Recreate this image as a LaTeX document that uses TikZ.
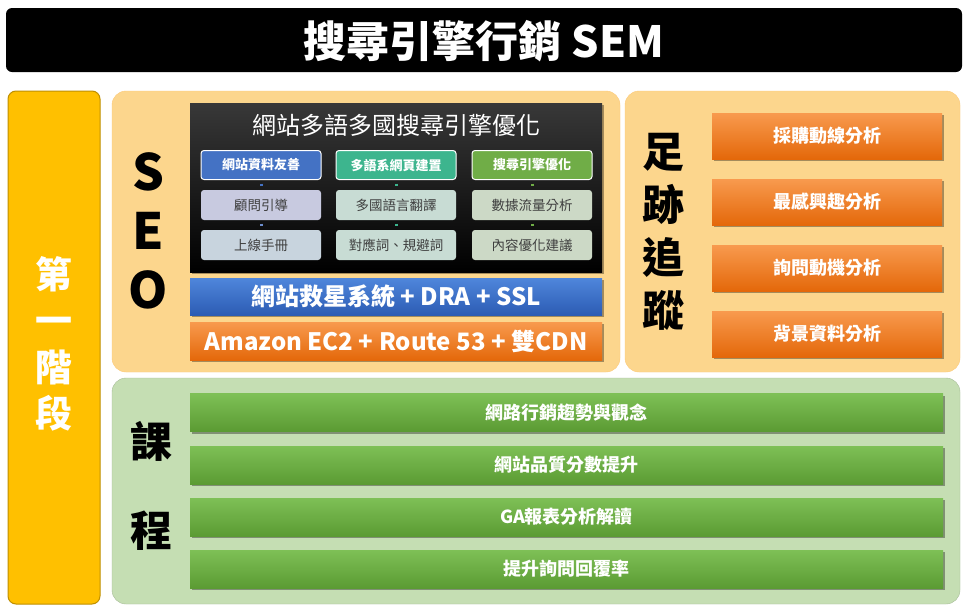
\documentclass[tikz,border=0pt]{standalone}
\usepackage{fontspec}
\setmainfont{Noto Sans CJK TC}
\usetikzlibrary{shadows}
\definecolor{stagegold}{HTML}{FFC000}
\definecolor{stageline}{HTML}{BF8F00}
\definecolor{seopanel}{HTML}{FCD68D}
\definecolor{coursepanel}{HTML}{C5DEB3}
\definecolor{headblue}{HTML}{4472C4}
\definecolor{headteal}{HTML}{3DB58E}
\definecolor{headgreen}{HTML}{70AD47}
\definecolor{paleblue}{HTML}{C8CAE0}
\definecolor{palesky}{HTML}{C8D4DE}
\definecolor{paleteal}{HTML}{C8DCD4}
\definecolor{palegreen}{HTML}{CCD9C6}
\definecolor{itemtext}{HTML}{3F3F3F}
\definecolor{barbluetop}{HTML}{4F86DB}
\definecolor{barbluebot}{HTML}{2C5CB4}
\definecolor{orangetop}{HTML}{F89A4E}
\definecolor{orangebot}{HTML}{E4680A}
\definecolor{greentop}{HTML}{7EC056}
\definecolor{greenbot}{HTML}{5B9B33}

\begin{document}
\begin{tikzpicture}[x=1pt, y=-1pt,
  headbox/.style={draw=white, line width=1pt, rounded corners=3pt,
    minimum width=120pt, minimum height=29pt, inner sep=0pt, text=white,
    font=\fontsize{13}{15}\selectfont\bfseries},
  itembox/.style={rounded corners=3pt, minimum width=120pt,
    minimum height=30pt, inner sep=0pt, text=itemtext,
    font=\fontsize{13.5}{15}\selectfont},
  link/.style={line width=3pt, shorten <=3.5pt, shorten >=3.5pt},
  softshadow/.style={drop shadow={shadow xshift=1.5pt, shadow yshift=-2pt,
    opacity=0.35, fill=black}},
  seobar/.style={minimum width=412pt, inner sep=0pt, text=white,
    font=\fontsize{24}{28}\selectfont\bfseries, softshadow},
  trackbox/.style={minimum width=230pt, minimum height=46pt, inner sep=0pt,
    top color=orangetop, bottom color=orangebot, text=white,
    font=\fontsize{18}{20}\selectfont\bfseries, softshadow},
  coursebar/.style={minimum width=753pt, minimum height=38pt, inner sep=0pt,
    top color=greentop, bottom color=greenbot, text=white,
    font=\fontsize{18}{20}\selectfont\bfseries, softshadow},
  bigchar/.style={align=center, inner sep=0pt}]

  % Page
  \fill[white] (0,0) rectangle (967,611);
  \useasboundingbox (0,0) rectangle (967,611);

  % Title bar
  \fill[black, rounded corners=6pt] (6,8) rectangle (962,72);
  \node[text=white, font=\fontsize{43}{47}\selectfont\bfseries] (title) at (484,41) {搜尋引擎行銷 SEM};

  % Stage column
  \filldraw[fill=stagegold, draw=stageline, line width=1pt, rounded corners=8pt]
    (8,91) rectangle (100,604);
  \node[bigchar, text=white, font=\fontsize{37}{46.5}\selectfont\bfseries] (stage) at (54,344) {第\\一\\階\\段};

  % Panels
  \filldraw[fill=seopanel, draw=seopanel!85!orange, rounded corners=14pt] (112,91) rectangle (620,372);
  \filldraw[fill=seopanel, draw=seopanel!85!orange, rounded corners=14pt] (625,91) rectangle (960,372);
  \filldraw[fill=coursepanel, draw=coursepanel!85!black, rounded corners=14pt] (112,378) rectangle (960,604);

  % SEO letters
  \node[bigchar, font=\fontsize{50}{59}\selectfont\bfseries] (seo) at (148,231) {S\\E\\O};

  % Multilingual SEO block
  \node[minimum width=412pt, minimum height=169pt, inner sep=0pt,
    top color=black!78, bottom color=black, softshadow] (seoblock) at (396,187.5) {};
  \node[text=white, font=\fontsize{24}{28}\selectfont] (seotitle) at (396,125) {網站多語多國搜尋引擎優化};

  \node[headbox, fill=headblue] (site) at (261,165) {網站資料友善};
  \node[itembox, fill=paleblue] (advise) at (261,205) {顧問引導};
  \node[itembox, fill=palesky] (manual) at (261,245) {上線手冊};

  \node[headbox, fill=headteal] (lang) at (396,165) {多語系網頁建置};
  \node[itembox, fill=paleteal] (trans) at (396,205) {多國語言翻譯};
  \node[itembox, fill=paleteal] (words) at (396,245) {對應詞、規避詞};

  \node[headbox, fill=headgreen] (engine) at (532,165) {搜尋引擎優化};
  \node[itembox, fill=palegreen] (traffic) at (532,205) {數據流量分析};
  \node[itembox, fill=palegreen] (content) at (532,245) {內容優化建議};

  \draw[link, headblue] (site) -- (advise);
  \draw[link, headblue!70!paleblue] (advise) -- (manual);
  \draw[link, headteal] (lang) -- (trans);
  \draw[link, headteal] (trans) -- (words);
  \draw[link, headgreen] (engine) -- (traffic);
  \draw[link, headgreen] (traffic) -- (content);

  % Hosting bars
  \node[seobar, minimum height=37pt, top color=barbluetop, bottom color=barbluebot] (rescue) at (396,296.5) {網站救星系統 + DRA + SSL};
  \node[seobar, minimum height=38pt, top color=orangetop, bottom color=orangebot] (hosting) at (396,341) {Amazon EC2 + Route 53 + 雙CDN};

  % Footprint tracking
  \node[bigchar, font=\fontsize{42}{53}\selectfont\bfseries] (trace) at (663,232) {足\\跡\\追\\蹤};
  \node[trackbox] (buy) at (827,136) {採購動線分析};
  \node[trackbox] (interest) at (827,202) {最感興趣分析};
  \node[trackbox] (motive) at (827,268) {詢問動機分析};
  \node[trackbox] (profile) at (827,334) {背景資料分析};

  % Courses
  \node[bigchar, font=\fontsize{42}{89}\selectfont\bfseries] (course) at (151,486) {課\\程};
  \node[coursebar] (trend) at (566.5,412.5) {網路行銷趨勢與觀念};
  \node[coursebar] (quality) at (566.5,465) {網站品質分數提升};
  \node[coursebar] (report) at (566.5,517) {GA報表分析解讀};
  \node[coursebar] (reply) at (566.5,569) {提升詢問回覆率};

\end{tikzpicture}
\end{document}
